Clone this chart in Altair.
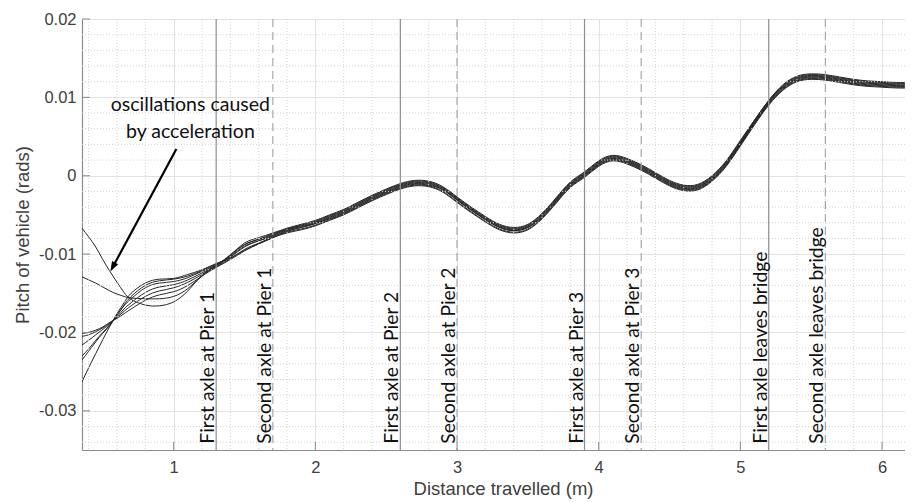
import altair as alt
import pandas as pd

# ---------------- data ----------------
X = [0.353, 0.4, 0.45, 0.5, 0.55, 0.6, 0.65, 0.7, 0.8, 0.9, 1.0, 1.1, 1.2, 1.3,
     1.4, 1.5, 1.6, 1.7, 1.8, 1.9,
     2.0, 2.1, 2.2, 2.3, 2.4, 2.5, 2.6, 2.7, 2.8, 2.9,
     3.0, 3.1, 3.2, 3.3, 3.4, 3.5, 3.6, 3.7, 3.8, 3.9,
     4.0, 4.1, 4.2, 4.3, 4.4, 4.5, 4.6, 4.7, 4.8, 4.9,
     5.0, 5.1, 5.2, 5.3, 5.4, 5.5, 5.6, 5.7, 5.8, 5.9,
     6.0, 6.1, 6.22]

RUN_A = [-0.0067, -0.0078, -0.0091, -0.0107, -0.0122, -0.0136, -0.0149, -0.0158, -0.0165, -0.0166, -0.0161, -0.0147, -0.0127, -0.0114,
         -0.0101, -0.0086, -0.0079, -0.0073, -0.0067, -0.0062,
         -0.0057, -0.0050, -0.0043, -0.0034, -0.0025, -0.0017, -0.0010, -0.0006, -0.0007, -0.0014,
         -0.0027, -0.0040, -0.0052, -0.0062, -0.0066, -0.0062, -0.0048, -0.0028, -0.0008, 0.0005,
         0.0019, 0.0026, 0.0022, 0.0014, 0.0004, -0.0006, -0.0012, -0.0011, 0.0000, 0.0019,
         0.0045, 0.0071, 0.0096, 0.0116, 0.0127, 0.0130, 0.0129, 0.0126, 0.0123, 0.0121,
         0.0120, 0.0119, 0.0119]

RUN_B = [-0.0129, -0.0133, -0.0137, -0.0142, -0.0147, -0.0151, -0.0154, -0.0156, -0.0157, -0.0157, -0.0154, -0.0144, -0.0128, -0.0115,
         -0.0101, -0.0088, -0.0081, -0.0074, -0.0068, -0.0063,
         -0.0058, -0.0051, -0.0044, -0.0035, -0.0026, -0.0018, -0.0011, -0.0007, -0.0008, -0.0015,
         -0.0028, -0.0041, -0.0053, -0.0063, -0.0067, -0.0063, -0.0049, -0.0029, -0.0009, 0.0004,
         0.0018, 0.0025, 0.0021, 0.0013, 0.0003, -0.0007, -0.0013, -0.0012, -0.0001, 0.0018,
         0.0044, 0.0071, 0.0096, 0.0115, 0.0126, 0.0129, 0.0128, 0.0125, 0.0122, 0.0120,
         0.0119, 0.0118, 0.0118]

RUN_C1 = [-0.0201, -0.0200, -0.0197, -0.0193, -0.0187, -0.0182, -0.0176, -0.0170, -0.0159, -0.0152, -0.0148, -0.0140, -0.0128, -0.0117,
          -0.0107, -0.0096, -0.0087, -0.0079, -0.0072, -0.0068,
          -0.0063, -0.0056, -0.0049, -0.0040, -0.0031, -0.0023, -0.0016, -0.0012, -0.0013, -0.0020,
          -0.0033, -0.0046, -0.0058, -0.0068, -0.0072, -0.0068, -0.0054, -0.0034, -0.0014, -0.0001,
          0.0013, 0.0020, 0.0016, 0.0008, -0.0002, -0.0012, -0.0018, -0.0017, -0.0006, 0.0013,
          0.0039, 0.0066, 0.0091, 0.0110, 0.0121, 0.0124, 0.0123, 0.0120, 0.0117, 0.0115,
          0.0114, 0.0113, 0.0113]

RUN_C2 = [-0.0205, -0.0203, -0.0199, -0.0194, -0.0188, -0.0181, -0.0173, -0.0166, -0.0154, -0.0147, -0.0143, -0.0136, -0.0126, -0.0116,
          -0.0106, -0.0094, -0.0086, -0.0078, -0.0071, -0.0066,
          -0.0061, -0.0055, -0.0048, -0.0039, -0.0030, -0.0022, -0.0015, -0.0011, -0.0012, -0.0018,
          -0.0031, -0.0044, -0.0056, -0.0066, -0.0070, -0.0066, -0.0053, -0.0033, -0.0013, 0.0000,
          0.0014, 0.0021, 0.0017, 0.0009, -0.0001, -0.0011, -0.0017, -0.0016, -0.0005, 0.0014,
          0.0040, 0.0067, 0.0092, 0.0111, 0.0122, 0.0125, 0.0124, 0.0121, 0.0118, 0.0116,
          0.0115, 0.0114, 0.0114]

RUN_C3 = [-0.0216, -0.0210, -0.0203, -0.0196, -0.0189, -0.0180, -0.0170, -0.0162, -0.0149, -0.0142, -0.0139, -0.0133, -0.0124, -0.0115,
          -0.0104, -0.0091, -0.0083, -0.0076, -0.0069, -0.0065,
          -0.0060, -0.0053, -0.0046, -0.0037, -0.0028, -0.0020, -0.0013, -0.0009, -0.0010, -0.0017,
          -0.0030, -0.0043, -0.0055, -0.0065, -0.0069, -0.0065, -0.0051, -0.0031, -0.0011, 0.0002,
          0.0016, 0.0023, 0.0019, 0.0011, 0.0001, -0.0009, -0.0015, -0.0014, -0.0003, 0.0016,
          0.0042, 0.0069, 0.0094, 0.0113, 0.0124, 0.0127, 0.0126, 0.0123, 0.0120, 0.0118,
          0.0117, 0.0116, 0.0116]

RUN_C4 = [-0.0230, -0.0221, -0.0210, -0.0200, -0.0190, -0.0178, -0.0166, -0.0157, -0.0143, -0.0137, -0.0135, -0.0130, -0.0122, -0.0114,
          -0.0102, -0.0088, -0.0081, -0.0075, -0.0068, -0.0064,
          -0.0059, -0.0052, -0.0045, -0.0036, -0.0027, -0.0019, -0.0012, -0.0008, -0.0009, -0.0016,
          -0.0029, -0.0042, -0.0054, -0.0064, -0.0068, -0.0064, -0.0050, -0.0030, -0.0010, 0.0003,
          0.0017, 0.0024, 0.0020, 0.0012, 0.0002, -0.0008, -0.0014, -0.0013, -0.0002, 0.0017,
          0.0043, 0.0070, 0.0095, 0.0114, 0.0125, 0.0128, 0.0127, 0.0124, 0.0121, 0.0119,
          0.0118, 0.0117, 0.0117]

RUN_C5 = [-0.0235, -0.0224, -0.0212, -0.0201, -0.0191, -0.0178, -0.0165, -0.0154, -0.0140, -0.0134, -0.0132, -0.0128, -0.0121, -0.0113,
          -0.0103, -0.0090, -0.0083, -0.0077, -0.0070, -0.0066,
          -0.0061, -0.0054, -0.0047, -0.0038, -0.0029, -0.0021, -0.0014, -0.0010, -0.0011, -0.0018,
          -0.0031, -0.0044, -0.0056, -0.0066, -0.0070, -0.0066, -0.0052, -0.0032, -0.0012, 0.0001,
          0.0015, 0.0022, 0.0018, 0.0010, 0.0000, -0.0010, -0.0016, -0.0015, -0.0004, 0.0015,
          0.0041, 0.0068, 0.0093, 0.0112, 0.0123, 0.0126, 0.0125, 0.0122, 0.0119, 0.0117,
          0.0116, 0.0115, 0.0115]

RUN_C6 = [-0.0263, -0.0245, -0.0227, -0.0209, -0.0192, -0.0176, -0.0162, -0.0150, -0.0137, -0.0132, -0.0131, -0.0126, -0.0120, -0.0112,
          -0.0105, -0.0095, -0.0087, -0.0079, -0.0073, -0.0069,
          -0.0064, -0.0057, -0.0050, -0.0041, -0.0032, -0.0024, -0.0017, -0.0013, -0.0014, -0.0021,
          -0.0034, -0.0047, -0.0059, -0.0069, -0.0073, -0.0069, -0.0055, -0.0035, -0.0015, -0.0002,
          0.0012, 0.0019, 0.0015, 0.0007, -0.0003, -0.0013, -0.0019, -0.0018, -0.0007, 0.0012,
          0.0038, 0.0065, 0.0090, 0.0109, 0.0120, 0.0123, 0.0122, 0.0119, 0.0116, 0.0114,
          0.0113, 0.0112, 0.0112]

RUNS = {"A": RUN_A, "B": RUN_B, "C1": RUN_C1, "C2": RUN_C2,
        "C3": RUN_C3, "C4": RUN_C4, "C5": RUN_C5, "C6": RUN_C6}

EVENT_X = [1.3, 1.7, 2.6, 3.0, 3.9, 4.3, 5.2, 5.6]
EVENT_KIND = ["first", "second", "first", "second", "first", "second", "first", "second"]
EVENT_LABEL = ["First axle at Pier 1", "Second axle at Pier 1",
               "First axle at Pier 2", "Second axle at Pier 2",
               "First axle at Pier 3", "Second axle at Pier 3",
               "First axle leaves bridge", "Second axle leaves bridge"]
EVENT_LABEL_Y = -0.0342

NOTE_LINES = ["oscillations caused", "by acceleration"]
NOTE_X = [1.118, 1.118]
NOTE_Y = [0.0090, 0.0056]
ARROW_FROM = [1.019, 0.0034]
ARROW_HEAD = [0.570, -0.01166]

X_TICKS = [1, 2, 3, 4, 5, 6]
Y_TICKS = [-0.03, -0.02, -0.01, 0.0, 0.01, 0.02]
X_MINOR = [0.4, 0.6, 0.8, 1.2, 1.4, 1.6, 1.8, 2.2, 2.4, 2.6, 2.8, 3.2, 3.4, 3.6, 3.8,
           4.2, 4.4, 4.6, 4.8, 5.2, 5.4, 5.6, 5.8]
Y_MINOR = [-0.034, -0.032, -0.028, -0.026, -0.024, -0.022, -0.018, -0.016, -0.014, -0.012,
           -0.008, -0.006, -0.004, -0.002, 0.002, 0.004, 0.006, 0.008,
           0.012, 0.014, 0.016, 0.018]

X_DOMAIN = [0.353, 6.162]
Y_DOMAIN = [-0.035, 0.02]

# ---------------- tables ----------------
curves = pd.DataFrame([{"run": k, "x": x, "y": y}
                       for k, ys in RUNS.items() for x, y in zip(X, ys)])
events = pd.DataFrame({"x": EVENT_X, "kind": EVENT_KIND, "label": EVENT_LABEL,
                       "y": [EVENT_LABEL_Y] * len(EVENT_X)})
notes = pd.DataFrame({"x": NOTE_X, "y": NOTE_Y, "t": NOTE_LINES})
arrow = pd.DataFrame({"x": [ARROW_FROM[0]], "y": [ARROW_FROM[1]],
                      "x2": [ARROW_HEAD[0]], "y2": [ARROW_HEAD[1]]})
xminor = pd.DataFrame({"x": X_MINOR})
yminor = pd.DataFrame({"y": Y_MINOR})
xt = pd.DataFrame({"x": X_TICKS})
yt = pd.DataFrame({"y": Y_TICKS})

W, H = 823, 431
AX_FONT = "Liberation Sans"
NOTE_FONT = "Lato"
xs = alt.Scale(domain=X_DOMAIN, nice=False, zero=False)
ys = alt.Scale(domain=Y_DOMAIN, nice=False, zero=False)

x_axis = alt.Axis(values=X_TICKS, format="d", title="Distance travelled (m)",
                  grid=True, gridColor="#e2e2e2", gridWidth=1,
                  ticks=False, tickSize=0, labelPadding=9,
                  labelFont=AX_FONT, labelFontSize=16.5, labelColor="#404040",
                  titleFont=AX_FONT, titleFontSize=18.5, titleFontWeight="normal",
                  titleColor="#404040", titlePadding=4, titleX=421,
                  domainColor="#8c8c8c", domainWidth=1.2)
y_axis = alt.Axis(values=Y_TICKS, title="Pitch of vehicle (rads)",
                  labelExpr="datum.value == 0 ? '0' : (datum.value < 0 ? '-' : '') + format(abs(datum.value), '.2f')",
                  grid=True, gridColor="#e2e2e2", gridWidth=1,
                  ticks=False, tickSize=0, labelPadding=6,
                  labelFont=AX_FONT, labelFontSize=16.5, labelColor="#404040",
                  titleFont=AX_FONT, titleFontSize=18.5, titleFontWeight="normal",
                  titleColor="#404040", titlePadding=6,
                  domainColor="#8c8c8c", domainWidth=1.2)


def ex(field="x"):
    return alt.X(f"{field}:Q", scale=xs, axis=x_axis)


def ey(field="y"):
    return alt.Y(f"{field}:Q", scale=ys, axis=y_axis)


minor_v = alt.Chart(xminor).mark_rule(color="#d4d4d4", strokeDash=[1, 2], strokeWidth=1).encode(x=ex())
minor_h = alt.Chart(yminor).mark_rule(color="#d4d4d4", strokeDash=[1, 2], strokeWidth=1).encode(y=ey())

first_lines = alt.Chart(events).transform_filter("datum.kind == 'first'").mark_rule(
    color="#8f8f8f", strokeWidth=1.2).encode(x=ex())
second_lines = alt.Chart(events).transform_filter("datum.kind == 'second'").mark_rule(
    color="#a8a8a8", strokeWidth=1.2, strokeDash=[8, 5]).encode(x=ex())

lines = alt.Chart(curves).mark_line(color="#262626", strokeWidth=1, interpolate="natural", clip=True).encode(
    x=ex(), y=ey(), detail="run:N")

labels = alt.Chart(events).mark_text(angle=270, align="left", baseline="alphabetic", dy=-2,
                                     font=NOTE_FONT, fontSize=19.3, color="#111111").encode(
    x=ex(), y=ey(), text="label:N")

note = alt.Chart(notes).mark_text(align="center", baseline="middle",
                                  font=NOTE_FONT, fontSize=19.5, color="#111111").encode(
    x=ex(), y=ey(), text="t:N")

arrow_line = alt.Chart(arrow).mark_rule(color="black", strokeWidth=2.2).encode(
    x=ex(), y=ey(), x2="x2:Q", y2="y2:Q")
arrow_head = alt.Chart(arrow).mark_point(shape="M0,-1L0.7,1L-0.7,1Z", size=100, filled=True,
                                         color="black", opacity=1, angle=208.3).encode(
    x=ex("x2"), y=ey("y2"))

xticks = alt.Chart(xt).mark_rule(color="#8c8c8c", strokeWidth=1).encode(
    x=ex(), y=alt.value(H), y2=alt.value(H - 8))
yticks = alt.Chart(yt).mark_rule(color="#8c8c8c", strokeWidth=1).encode(
    y=ey(), x=alt.value(0), x2=alt.value(8))

chart = alt.layer(lines, minor_v, minor_h, first_lines, second_lines, labels, note,
                  arrow_line, arrow_head, xticks, yticks).properties(
    width=W, height=H,
    autosize=alt.AutoSizeParams(type="none"),
    padding={"left": 74, "top": 11, "right": 0, "bottom": 50},
    background="white",
).configure_view(stroke=None)

chart.save("out.html", embed_options={"renderer": "svg", "actions": False})
